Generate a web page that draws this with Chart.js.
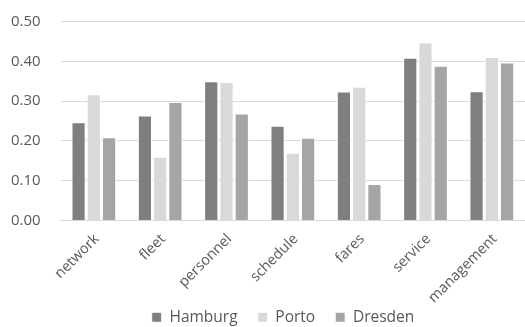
<!DOCTYPE html>
<html>
<head>
<meta charset="utf-8">
<script src="https://cdn.jsdelivr.net/npm/chart.js@4"></script>
<style>
  html, body { margin: 0; padding: 0; background: #fff; }
  #box { width: 525px; height: 327px; }
</style>
</head>
<body>
<div id="box"><canvas id="grafico"></canvas></div>
<script>
const categorias = ["network", "fleet", "personnel", "schedule", "fares", "service", "management"];
const hamburg = [0.247, 0.264, 0.350, 0.238, 0.324, 0.409, 0.325];
const porto = [0.317, 0.160, 0.348, 0.170, 0.336, 0.448, 0.411];
const dresden = [0.209, 0.298, 0.269, 0.208, 0.092, 0.389, 0.397];
const ticksY = [0, 0.1, 0.2, 0.3, 0.4, 0.5];

const corTexto = "#595959";
const fonte = "'Open Sans', sans-serif";

function serie(nome, valores, cor) {
  return {
    label: nome,
    data: valores,
    backgroundColor: cor,
    borderColor: "#ffffff",
    borderWidth: 1,
    barPercentage: 0.93,
    categoryPercentage: 0.69,
  };
}

// legenda um pouco deslocada para a direita, como no original,
// e o eixo x com mais altura para nao cortar "management"
const ajustarLayout = {
  id: "ajustarLayout",
  afterLayout(chart) {
    chart.legend.left += 25;
    chart.legend.right += 25;
    chart.scales.x.bottom += 40;
    chart.scales.x.height += 40;
  },
};

new Chart(document.getElementById("grafico"), {
  type: "bar",
  data: {
    labels: categorias,
    datasets: [
      serie("Hamburg", hamburg, "#7f7f7f"),
      serie("Porto", porto, "#d9d9d9"),
      serie("Dresden", dresden, "#a5a5a5"),
    ],
  },
  plugins: [ajustarLayout],
  options: {
    responsive: true,
    maintainAspectRatio: false,
    animation: false,
    layout: {
      padding: { left: -9, right: 0, top: -2, bottom: -8 },
    },
    plugins: {
      tooltip: { enabled: false },
      legend: {
        position: "bottom",
        labels: {
          color: corTexto,
          font: { family: fonte, size: 15.5 },
          boxWidth: 10,
          boxHeight: 10,
          padding: 20,
        },
      },
    },
    scales: {
      x: {
        grid: { display: false, drawTicks: false },
        border: { color: "#d9d9d9", width: 1 },
        ticks: {
          color: corTexto,
          font: { family: fonte, size: 14.5 },
          minRotation: 45,
          maxRotation: 45,
          padding: 10,
          labelOffset: 3,
        },
        afterFit: (eixo) => {
          eixo.paddingLeft = 0;
          eixo.paddingRight = 0;
          eixo.height -= 27;
        },
      },
      y: {
        min: 0,
        max: 0.5,
        afterBuildTicks: (eixo) => {
          eixo.ticks = ticksY.map((v) => ({ value: v }));
        },
        afterFit: (eixo) => {
          eixo.paddingTop = 21.5;
        },
        grid: { color: "#d9d9d9", lineWidth: 1, drawTicks: false },
        border: { display: false },
        ticks: {
          color: corTexto,
          font: { family: fonte, size: 15 },
          padding: 20,
          callback: (v) => Number(v).toFixed(2),
        },
      },
    },
  },
});
</script>
</body>
</html>
